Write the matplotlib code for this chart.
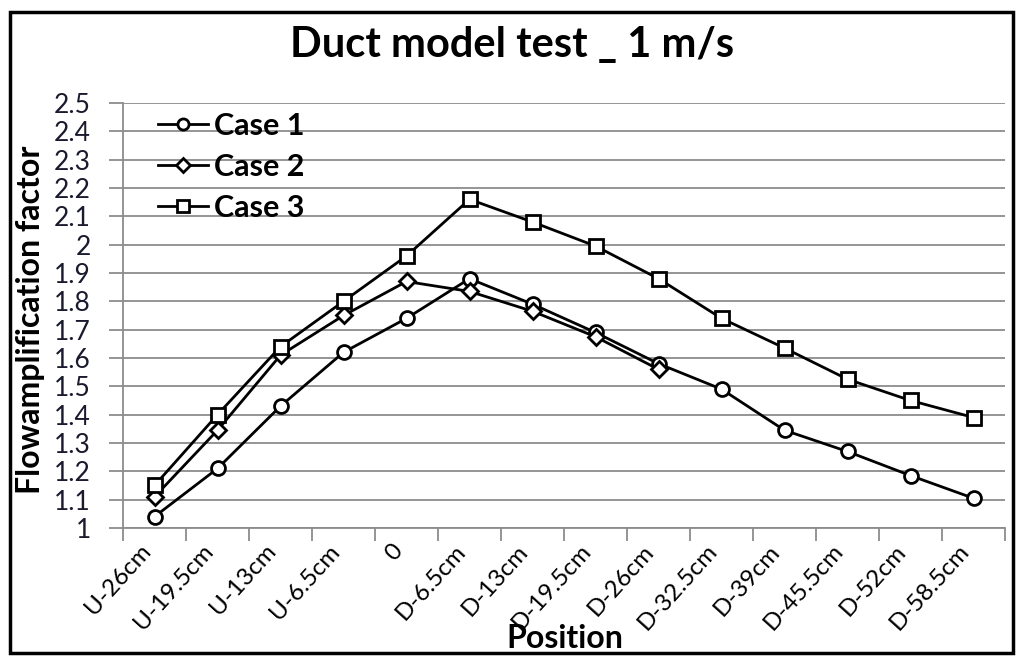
import matplotlib
matplotlib.use("Agg")
import matplotlib.pyplot as plt
import numpy as np
from matplotlib.patches import Rectangle

categories = ["U-26cm", "U-19.5cm", "U-13cm", "U-6.5cm", "0", "D-6.5cm", "D-13cm",
              "D-19.5cm", "D-26cm", "D-32.5cm", "D-39cm", "D-45.5cm", "D-52cm", "D-58.5cm"]
case1 = [1.04, 1.21, 1.43, 1.62, 1.74, 1.88, 1.79, 1.69, 1.58, 1.49, 1.345, 1.27, 1.185, 1.105]
case2 = [1.11, 1.345, 1.61, 1.75, 1.87, 1.835, 1.765, 1.675, 1.56]
case3 = [1.15, 1.40, 1.64, 1.80, 1.96, 2.16, 2.08, 1.995, 1.88, 1.74, 1.635, 1.525, 1.45, 1.39]
yticks = [1, 1.1, 1.2, 1.3, 1.4, 1.5, 1.6, 1.7, 1.8, 1.9, 2, 2.1, 2.2, 2.3, 2.4, 2.5]
ytick_labels = ["1", "1.1", "1.2", "1.3", "1.4", "1.5", "1.6", "1.7", "1.8", "1.9",
                "2", "2.1", "2.2", "2.3", "2.4", "2.5"]

plt.rcParams['font.family'] = ['Lato', 'DejaVu Sans']

fig = plt.figure(figsize=(10.24, 6.66), dpi=100)
W, H = 1024, 666
ax = fig.add_axes([123 / W, 1 - 528 / H, 882 / W, 425 / H])

grid_c = "#8c8c8c"
x1 = np.arange(len(case1))
x2 = np.arange(len(case2))
x3 = np.arange(len(case3))
common = dict(color="black", lw=2.0, mfc="white", mec="black", mew=2.0, zorder=3)
ax.plot(x1, case1, marker="o", ms=10, label="Case 1", **common)
ax.plot(x2, case2, marker="D", ms=8.5, label="Case 2", **common)
ax.plot(x3, case3, marker="s", ms=10, label="Case 3", **common)

ax.set_xlim(-0.5, len(categories) - 0.5)
ax.set_ylim(1, 2.5)
ax.set_yticks(yticks)
ax.set_yticklabels(ytick_labels)
ax.yaxis.grid(True, color=grid_c, lw=1.3)
ax.set_axisbelow(True)

ax.set_xticks(np.arange(-0.5, len(categories), 1))
ax.set_xticklabels([])
ax.set_xticks(np.arange(len(categories)), minor=True)
ax.set_xticklabels(categories, minor=True, rotation=48, ha="right", rotation_mode="default",
                   fontsize=17.5)
ax.tick_params(axis="x", which="minor", length=0, pad=9)
ax.tick_params(axis="x", which="major", length=9, width=1.3, color=grid_c, direction="out")
ax.tick_params(axis="y", length=10, width=1.3, color=grid_c, direction="out", pad=13,
               labelsize=19)
for lab in ax.get_yticklabels():
    lab.set_color("#1a1a2e")

for s in ["top", "right"]:
    ax.spines[s].set_visible(False)
for s in ["left", "bottom"]:
    ax.spines[s].set_color(grid_c)
    ax.spines[s].set_linewidth(1.3)

ax.set_ylabel("Flowamplification factor", fontsize=23, fontweight="bold", va="center")
ax.yaxis.set_label_coords(-0.105, 0.49)
ax.set_xlabel("Position", fontsize=23, fontweight="bold", va="center")
ax.xaxis.set_label_coords(0.501, -0.26)

leg = ax.legend(loc="upper left", bbox_to_anchor=(0.022, 1.015), frameon=False,
                prop=dict(size=22, weight="bold"), handlelength=1.65, handletextpad=0.2,
                labelspacing=0.43, borderpad=0, markerscale=0.8)

fig.text(0.5, 1 - 45 / H, "Duct model test _ 1 m/s", ha="center", va="center",
         fontsize=30, fontweight="bold")

fig.patches.append(Rectangle((10 / W, 1 - 653 / H), 1003 / W, 641 / H, transform=fig.transFigure,
                             fill=False, edgecolor="black", lw=2.5))

fig.savefig("out.png", dpi=100, facecolor="white")
